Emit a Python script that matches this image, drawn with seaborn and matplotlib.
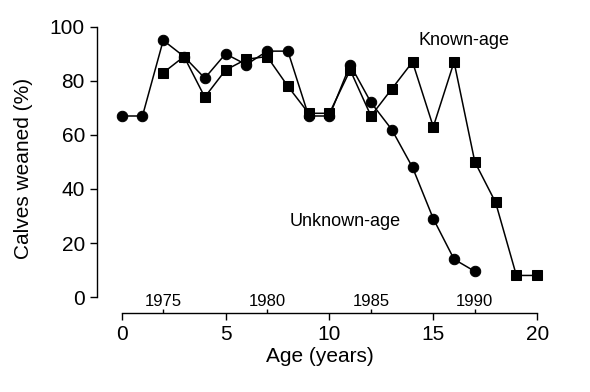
import matplotlib
matplotlib.use('Agg')
import matplotlib.pyplot as plt
import seaborn as sns
import pandas as pd

# data
unknown_age = list(range(0, 18))
unknown_pct = [67, 67, 95, 89, 81, 90, 86, 91, 91, 67, 67, 86, 72, 62, 48, 29, 14, 9.5]

known_age = list(range(2, 21))
known_pct = [83, 89, 74, 84, 88, 89, 78, 68, 68, 84, 67, 77, 87, 63, 87, 50, 35, 8, 8]

age_ticks = [0, 5, 10, 15, 20]
year_ticks = [1975, 1980, 1985, 1990]
year_offset = 1973  # age 2 == 1975

df = pd.concat([
    pd.DataFrame({'age': unknown_age, 'pct': unknown_pct, 'group': 'Unknown-age'}),
    pd.DataFrame({'age': known_age, 'pct': known_pct, 'group': 'Known-age'}),
])

sns.set_style('ticks')
plt.rcParams['font.family'] = ['Liberation Sans', 'DejaVu Sans']
plt.rcParams['text.color'] = 'black'
plt.rcParams['axes.labelcolor'] = 'black'

fig = plt.figure(figsize=(5.9, 3.92), dpi=100)
ax = fig.add_axes([0.164, 0.2015, 0.757, 0.737])

sns.lineplot(data=df, x='age', y='pct', style='group', markers={'Unknown-age': 'o', 'Known-age': 's'},
             dashes=False, color='black', linewidth=1.1, markersize=7.5, markeredgecolor='black',
             legend=False, ax=ax, sort=False)

ax.set_xlim(-1.2, 20.3)
ax.set_ylim(-5.9, 101)
ax.set_xticks(age_ticks)
ax.set_yticks([0, 20, 40, 60, 80, 100])
ax.tick_params(labelsize=15, length=5, width=1, colors='black')
ax.set_xlabel('Age (years)', fontsize=15, labelpad=2)
ax.set_ylabel('Calves weaned (%)', fontsize=15, labelpad=12)
sns.despine(ax=ax, trim=True)
for s in ['left', 'bottom']:
    ax.spines[s].set_color('black')
    ax.spines[s].set_linewidth(1)

# calendar years along the age axis
sec = ax.secondary_xaxis(0, functions=(lambda a: a + year_offset, lambda y: y - year_offset))
sec.set_alignment('top')
sec.set_xticks(year_ticks)
sec.tick_params(labelsize=12, length=3, width=1, pad=0, colors='black')
sec.spines['top'].set_visible(False)
sec.spines['bottom'].set_visible(False)

ax.text(16.5, 95, 'Known-age', fontsize=13, ha='center', va='center', color='black')
ax.text(10.75, 28, 'Unknown-age', fontsize=13, ha='center', va='center', color='black')

fig.savefig('out.png', dpi=100)
